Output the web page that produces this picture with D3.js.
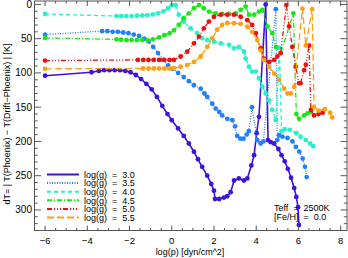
<!DOCTYPE html>
<html>
<head>
<meta charset="utf-8">
<script src="https://cdn.jsdelivr.net/npm/d3@7"></script>
<style>
  body { margin: 0; background: #fff; }
  text { font-family: "Liberation Sans", Arial, sans-serif; fill: #000; }
</style>
</head>
<body>
<div id="chart"></div>
<script>
// [log(p), dT] pairs for each log(g)
var g30 = [[-6,104],[-3.8,99],[-3.45,97],[-3.2,96],[-2.95,96],[-2.7,96],[-2.45,96],[-2.2,97],[-1.95,99],[-1.7,103],[-1.45,109],[-1.2,116],[-0.95,124],[-0.7,135],[-0.45,148],[-0.2,160],[0.0,169],[0.3,181],[0.57,192],[0.81,203],[1.05,215],[1.24,226],[1.44,237],[1.68,250],[1.87,262],[2.0,272],[2.05,284],[2.25,284],[2.47,282],[2.63,280],[2.79,274],[2.95,257],[3.18,254],[3.42,257],[3.58,254],[3.77,235],[3.9,220],[4.02,188],[4.13,164],[4.45,0],[4.56,198],[4.69,201],[4.85,203],[5.05,211],[5.2,220],[5.35,229],[5.5,240],[5.65,253],[5.8,268],[5.9,281],[5.98,296],[6.02,322]];
var g35 = [[-6,44],[-3.3,39],[-3.05,39],[-2.8,40],[-2.55,40],[-2.3,41],[-2.05,42],[-1.8,44],[-1.55,46],[-1.3,50],[-1.1,54],[-0.88,62],[-0.65,71],[-0.41,81],[-0.17,89],[0.05,94],[0.3,100],[0.57,106],[0.81,112],[1.05,118],[1.37,123],[1.55,130],[1.68,135],[1.92,145],[2.08,152],[2.25,157],[2.39,162],[2.63,167],[2.87,169],[3.0,178],[3.1,192],[3.25,196],[3.4,196],[3.55,190],[3.65,185],[3.8,150],[4.05,198],[4.21,203],[4.34,200],[4.93,7],[5.0,198],[5.08,191],[5.24,193],[5.48,195],[5.72,200],[5.88,208],[6.04,215],[6.2,225],[6.31,237],[6.39,252]];
var g40 = [[-6,14],[-2.62,17],[-2.4,17],[-2.15,17],[-1.9,17],[-1.65,16.5],[-1.4,16],[-1.15,15.5],[-0.9,14.5],[-0.65,13],[-0.4,10],[-0.17,5.6],[0.0,1],[0.18,1],[0.33,15],[0.57,25],[0.89,35],[1.2,42],[1.44,49.5],[1.68,52],[2.0,54.5],[2.32,57],[2.71,59],[2.95,64],[3.18,62],[3.42,69],[3.5,79],[3.66,91],[3.81,98],[3.98,98],[4.13,108],[4.29,120],[4.45,130],[4.61,140],[4.76,154],[4.93,169],[5.1,63],[5.2,185],[5.35,182],[5.6,183],[5.9,188],[6.1,193],[6.35,198],[6.55,203],[6.7,207]];
var g45 = [[-6,49],[-2.62,51],[-2.4,51.5],[-2.15,52],[-1.9,52],[-1.65,52],[-1.4,52],[-1.15,52],[-0.9,51],[-0.6,48],[-0.35,45],[-0.1,42],[0.1,38],[0.33,30],[0.57,20],[0.81,13],[1.05,5.6],[1.29,1],[1.52,5.6],[1.76,10.5],[2.08,13],[2.39,14],[2.71,14],[3.03,13],[3.26,8],[3.5,3],[3.66,15],[3.9,15],[4.13,10.5],[4.29,8],[4.53,32],[4.76,42],[4.93,62],[5.16,71],[5.76,13],[5.9,160],[6.03,167],[6.27,162],[6.43,159],[6.6,157]];
var g50 = [[-6,82],[-1.6,81],[-1.35,81],[-1.1,81],[-0.85,81],[-0.6,81],[-0.35,81],[-0.1,81],[0.1,81],[0.42,76],[0.73,69],[1.05,57],[1.29,47],[1.52,35],[1.76,25],[2.0,18],[2.32,15],[2.63,15],[2.95,15],[3.26,18],[3.58,23],[3.81,30],[3.98,42],[4.21,64],[4.37,79],[4.61,84],[4.85,81],[5.0,76],[5.16,71],[5.43,1],[5.56,32],[5.71,62],[5.87,91],[6.03,115],[6.1,115],[6.27,96],[6.35,88],[6.5,60],[6.59,154],[6.74,162],[6.95,160],[7.15,158]];
var g55 = [[-6,94],[-1.36,93.5],[-1.1,93.5],[-0.85,93.5],[-0.6,93.5],[-0.35,93.5],[-0.1,93.5],[0.1,93],[0.42,91],[0.73,88.5],[1.05,84],[1.37,76],[1.68,62],[1.92,49.5],[2.15,37],[2.39,30],[2.63,27],[2.95,27.5],[3.26,28.5],[3.58,32.5],[3.81,40],[4.05,52],[4.21,67],[4.37,81],[4.61,91],[4.85,101],[5.08,110],[5.32,123],[5.48,130],[5.64,130],[5.8,120],[6.19,6],[6.35,60],[6.65,7],[6.74,150],[6.95,155],[7.25,153],[7.5,158],[7.6,165]];

var seriesNames = ['3.0', '3.5', '4.0', '4.5', '5.0', '5.5'];
var seriesData = [g30, g35, g40, g45, g50, g55];
var seriesColors = ['#3c14dc', '#2080ff', '#28f0c8', '#18e818', '#f01010', '#ffa014'];
var seriesDash = ['', '1,1.5', '4,3', '5,2,1,2', '5,2,1,2,1,2,1,2', '7,3'];

var xTicks = [-6, -4, -2, 0, 2, 4, 6, 8];
var yTicks = [0, 50, 100, 150, 200, 250, 300];

var width = 348, height = 258;
var pLeft = 34.5, pRight = 347, pTop = 1, pBottom = 230.5;

var svg = d3.select('#chart').append('svg')
  .attr('width', width)
  .attr('height', height);

var x = d3.scaleLinear().domain([-6.5, 8.3]).range([pLeft, pRight]);
var y = d3.scaleLinear().domain([-5, 330]).range([pTop, pBottom]);

svg.append('clipPath').attr('id', 'clip')
  .append('rect').attr('x', pLeft).attr('y', pTop)
  .attr('width', pRight - pLeft).attr('height', pBottom - pTop);

var line = d3.line()
  .x(function(d) { return x(d[0]); })
  .y(function(d) { return y(d[1]); });

var curves = svg.append('g').attr('clip-path', 'url(#clip)');
seriesData.forEach(function(data, i) {
  curves.append('path')
    .attr('d', line(data))
    .attr('fill', 'none')
    .attr('stroke', seriesColors[i])
    .attr('stroke-width', i === 0 ? 1.6 : 1.3)
    .attr('stroke-dasharray', seriesDash[i] || null);
  curves.selectAll('circle.s' + i)
    .data(data).enter().append('circle')
    .attr('class', 's' + i)
    .attr('cx', function(d) { return x(d[0]); })
    .attr('cy', function(d) { return y(d[1]); })
    .attr('r', 2.4)
    .attr('fill', seriesColors[i]);
});

// box and ticks on all four sides
var axisColor = '#555';
svg.append('rect')
  .attr('x', pLeft).attr('y', pTop)
  .attr('width', pRight - pLeft).attr('height', pBottom - pTop)
  .attr('fill', 'none').attr('stroke', axisColor).attr('stroke-width', 1);

var xMinor = d3.range(-6.5, 8.31, 0.5);
var yMinor = d3.range(0, 331, 10);

xMinor.forEach(function(v) {
  var major = xTicks.indexOf(v) >= 0, len = major ? 5 : 2.5;
  svg.append('line').attr('x1', x(v)).attr('x2', x(v))
    .attr('y1', pBottom).attr('y2', pBottom - len).attr('stroke', axisColor);
  svg.append('line').attr('x1', x(v)).attr('x2', x(v))
    .attr('y1', pTop).attr('y2', pTop + len).attr('stroke', axisColor);
});
yMinor.forEach(function(v) {
  var major = yTicks.indexOf(v) >= 0, len = major ? 6.5 : 3.2;
  svg.append('line').attr('y1', y(v)).attr('y2', y(v))
    .attr('x1', pLeft).attr('x2', pLeft + len).attr('stroke', axisColor);
  svg.append('line').attr('y1', y(v)).attr('y2', y(v))
    .attr('x1', pRight).attr('x2', pRight - len).attr('stroke', axisColor);
});

svg.selectAll('text.xt').data(xTicks).enter().append('text')
  .attr('class', 'xt')
  .attr('x', function(d) { return x(d); })
  .attr('y', 243.5)
  .attr('text-anchor', 'middle')
  .style('font-size', '9.5px')
  .text(function(d) { return d < 0 ? '\u2212' + (-d) : d; });

svg.selectAll('text.yt').data(yTicks).enter().append('text')
  .attr('class', 'yt')
  .attr('x', 32)
  .attr('y', function(d) { return y(d) + 3.5; })
  .attr('text-anchor', 'end')
  .style('font-size', '10px')
  .text(function(d) { return d; });

svg.append('text')
  .attr('x', 190).attr('y', 255)
  .attr('text-anchor', 'middle')
  .style('font-size', '9px')
  .text('log(p) [dyn/cm^2]');

svg.append('text')
  .attr('transform', 'translate(10,124) rotate(-90)')
  .attr('text-anchor', 'middle')
  .style('font-size', '9px')
  .style('white-space', 'pre')
  .text('dT= | T(Phoenix) \u2212 T(Drift\u2212Phoenix) | [K]');

// legend
var legend = svg.append('g');
seriesNames.forEach(function(name, i) {
  var ly = 174.5 + i * 8.6;
  legend.append('line')
    .attr('x1', 47).attr('x2', 79).attr('y1', ly).attr('y2', ly)
    .attr('stroke', seriesColors[i]).attr('stroke-width', 2)
    .attr('stroke-dasharray', seriesDash[i] || null);
  legend.append('text')
    .attr('x', 84).attr('y', ly + 3.2)
    .style('font-size', '9px')
    .style('white-space', 'pre')
    .text('log(g)  =  ' + name);
});

svg.append('text').attr('x', 274).attr('y', 211)
  .style('font-size', '9px').style('white-space', 'pre')
  .text('Teff  =  2500K');
svg.append('text').attr('x', 274).attr('y', 220)
  .style('font-size', '9px').style('white-space', 'pre')
  .text('[Fe/H]  =  0.0');
</script>
</body>
</html>
